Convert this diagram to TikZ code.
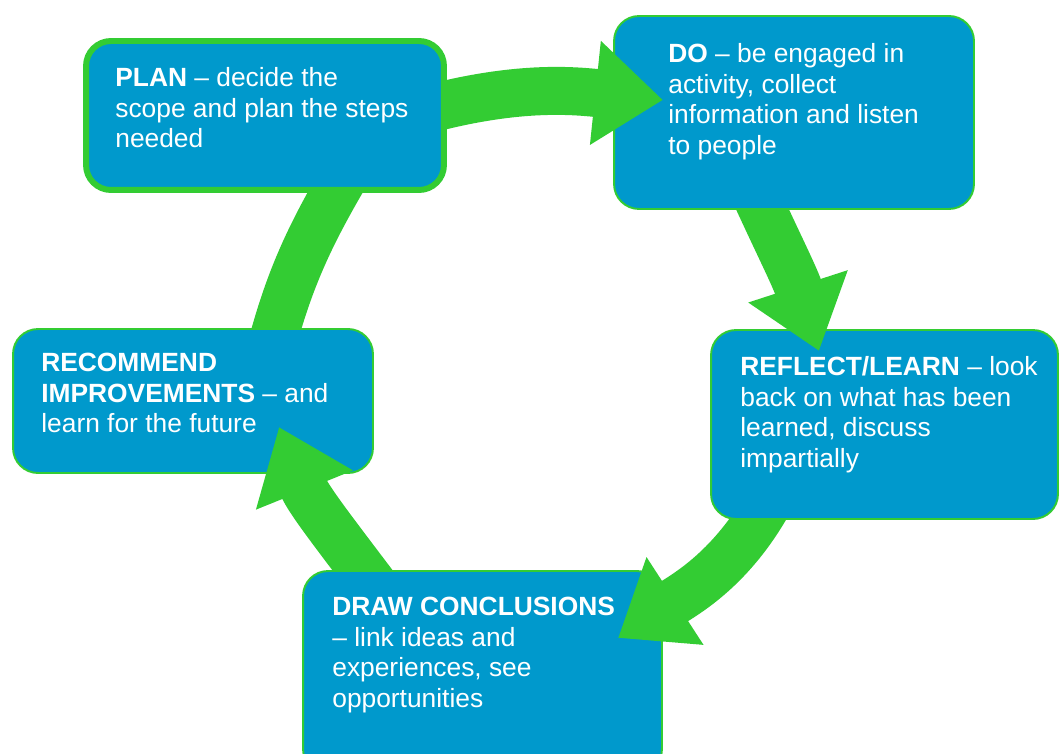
\documentclass[tikz,border=0pt]{standalone}
\usepackage{fontspec}
\setmainfont{Liberation Sans}
\usetikzlibrary{arrows.meta}
\definecolor{cycleblue}{RGB}{0,153,204}
\definecolor{cyclegreen}{RGB}{51,204,51}
\tikzset{
	stage/.style={draw=cyclegreen, fill=cycleblue, rounded corners=0.5cm, line width=1.1pt, inner sep=0pt},
	stagetext/.style={anchor=north west, inner sep=0pt, text=white, align=left, font=\fontsize{15pt}{17.4pt}\selectfont},
	ring/.style={cyclegreen, line width=0.96cm, -{Triangle[length=1.36cm, width=2cm]}},
}
\begin{document}
\begin{tikzpicture}[x=0.02cm, y=0.02cm]
	\path[use as bounding box, fill=white] (0, 0) rectangle (1060, -753);

	% ends of the green ring: each band starts under its box, each head lies on the next box
	\coordinate (a1s) at (425, -110);
	\coordinate (a1e) at (663, -100);
	\coordinate (a2s) at (740, -160);
	\coordinate (a2e) at (819, -351);
	\coordinate (a3s) at (775, -490);
	\coordinate (a3e) at (618, -638);
	\coordinate (a4s) at (385, -600);
	\coordinate (a4e) at (279, -427);
	\coordinate (a5s) at (268, -360);
	\coordinate (a5e) at (360, -150);

	\draw[ring, -] (a5s) to[out=76, in=239] (a5e);
	\node[stage, minimum width=7.2cm, minimum height=2.88cm] (improve) at (193, -401) {};
	\draw[ring] (a4s) to[out=127, in=-68] (a4e);
	\node[stage, minimum width=7.18cm, minimum height=4.06cm] (conclude) at (482.5, -672.5) {};
	\draw[ring] (a3s) to[out=243, in=33] (a3e);
	\node[stage, minimum width=6.94cm, minimum height=3.78cm] (reflect) at (884.5, -424.5) {};
	\draw[ring] (a2s) to[out=-66, in=108] (a2e);
	\node[stage, minimum width=7.2cm, minimum height=3.86cm] (do) at (794, -112.5) {};
	\draw[ring] (a1s) to[out=15, in=174] (a1e);
	\node[stage, line width=3.4pt, minimum width=7.16cm, minimum height=2.98cm] (plan) at (265, -115.5) {};

	\node[stagetext] (plan-t) at (115, -67) {\textbf{PLAN} – decide the\\scope and plan the steps\\needed};
	\node[stagetext] (do-t) at (668, -43) {\textbf{DO} – be engaged in\\activity, collect\\information and listen\\to people};
	\node[stagetext] (reflect-t) at (740, -356) {\textbf{REFLECT/LEARN} – look\\back on what has been\\learned, discuss\\impartially};
	\node[stagetext] (conclude-t) at (332, -597) {\textbf{DRAW CONCLUSIONS}\\– link ideas and\\experiences, see\\opportunities};
	\node[stagetext] (improve-t) at (41, -353) {\textbf{RECOMMEND}\\\textbf{IMPROVEMENTS} – and\\learn for the future};
\end{tikzpicture}
\end{document}
